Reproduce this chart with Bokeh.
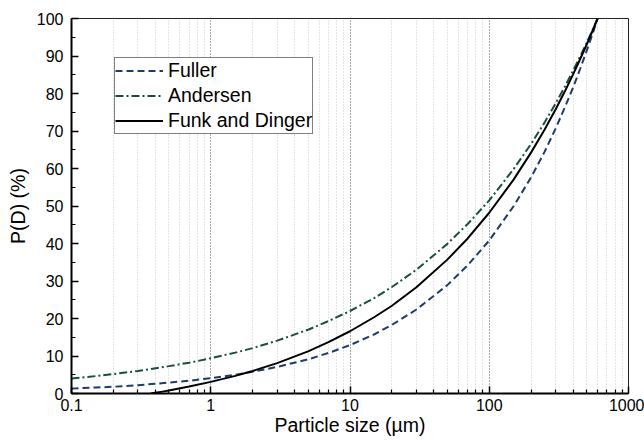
from bokeh.plotting import figure
from bokeh.models import (FixedTicker, SingleIntervalTicker, Legend, LegendItem,
                          CustomJSTickFormatter, Range1d)
from bokeh.embed import file_html
from bokeh.resources import INLINE

# ---- data ----
size_um = [0.1, 0.15, 0.2, 0.3, 0.5, 0.7, 1, 1.5, 2, 3, 5, 7, 10, 15, 20, 30,
           50, 70, 100, 150, 200, 250, 300, 350, 400, 450, 500, 550, 600]
fuller = [1.3, 1.6, 1.8, 2.2, 2.9, 3.4, 4.1, 5.0, 5.8, 7.1, 9.1, 10.8, 12.9,
          15.8, 18.3, 22.4, 28.9, 34.2, 40.8, 50.0, 57.7, 64.5, 70.7, 76.4,
          81.6, 86.6, 91.3, 95.7, 100.0]
andersen = [4.0, 4.65, 5.2, 6.0, 7.3, 8.2, 9.4, 10.9, 12.1, 14.1, 17.0, 19.3,
            22.0, 25.5, 28.4, 33.0, 39.9, 45.2, 51.5, 59.9, 66.6, 72.3, 77.4,
            81.9, 86.1, 89.9, 93.5, 96.8, 100.0]
funk_size_um = [0.37, 0.4, 0.45, 0.5, 0.7, 1, 1.5, 2, 3, 5, 7, 10, 15, 20, 30,
                50, 70, 100, 150, 200, 250, 300, 350, 400, 450, 500, 550, 600]
funk_dinger = [0.0, 0.2, 0.5, 0.8, 1.85, 3.1, 4.7, 6.0, 8.1, 11.25, 13.7, 16.6,
               20.4, 23.4, 28.35, 35.7, 41.35, 48.2, 57.1, 64.3, 70.4, 75.8,
               80.65, 85.1, 89.2, 93.0, 96.6, 100.0]

x_ticks = [0.1, 1, 10, 100, 1000]
x_tick_labels = ["0.1", "1", "10", "100", "1000"]
x_minor_ticks = [m * t for t in [0.1, 1, 10, 100] for m in range(2, 10)]

FONT = "Liberation Sans"

p = figure(width=644, height=440, x_axis_type="log",
           x_range=Range1d(0.1, 1000), y_range=Range1d(0, 100),
           output_backend="svg", toolbar_location=None,
           min_border_left=71, min_border_right=16, min_border_top=18,
           min_border_bottom=47)
p.background_fill_color = "white"
p.border_fill_color = "white"
p.outline_line_color = "#222222"
p.outline_line_width = 1

r_fuller = p.line(size_um, fuller, line_color="#1d3c6e", line_width=2,
                  line_dash="7 4")
r_andersen = p.line(size_um, andersen, line_color="#17503f", line_width=2,
                    line_dash="8 3 2 3")
r_funk = p.line(funk_size_um, funk_dinger, line_color="black", line_width=2)

# axes
p.xaxis.ticker = FixedTicker(ticks=x_ticks, minor_ticks=x_minor_ticks)
p.xaxis.formatter = CustomJSTickFormatter(
    args=dict(xt=x_ticks, xl=x_tick_labels),
    code="const i = xt.findIndex(t => Math.abs(t - tick) < 1e-6*Math.max(1, Math.abs(t)));"
         " return i >= 0 ? xl[i] : '';")
p.yaxis.ticker = SingleIntervalTicker(interval=10, num_minor_ticks=2)

p.xaxis.axis_label = "Particle size (µm)"
p.yaxis.axis_label = "P(D) (%)"
for ax in (p.xaxis, p.yaxis):
    ax.axis_line_color = "black"
    ax.axis_line_width = 2
    ax.major_tick_in = 7
    ax.major_tick_out = 0
    ax.minor_tick_in = 4
    ax.minor_tick_out = 0
    ax.major_tick_line_color = "black"
    ax.minor_tick_line_color = "black"
    ax.major_tick_line_width = 1.5
    ax.minor_tick_line_width = 1.2
    ax.major_label_text_font = FONT
    ax.major_label_text_font_size = "16px"
    ax.major_label_text_color = "black"
    ax.axis_label_text_font = FONT
    ax.axis_label_text_font_size = "19.5px"
    ax.axis_label_text_font_style = "normal"
    ax.axis_label_text_color = "black"
p.xaxis.major_label_standoff = 5
p.xaxis.axis_label_standoff = 0
p.yaxis.major_label_standoff = 8
p.yaxis.axis_label_standoff = 5

# grid
p.ygrid.grid_line_color = None
p.xgrid.grid_line_color = "#555555"
p.xgrid.grid_line_dash = "1 2"
p.xgrid.grid_line_width = 1
p.xgrid.minor_grid_line_color = "#c8c8c8"
p.xgrid.minor_grid_line_dash = "1 2"
p.xgrid.minor_grid_line_width = 1

legend = Legend(items=[LegendItem(label="Fuller", renderers=[r_fuller]),
                       LegendItem(label="Andersen", renderers=[r_andersen]),
                       LegendItem(label="Funk and Dinger", renderers=[r_funk])],
                location=(43, 259))
legend.margin = 0
legend.padding = 0
legend.spacing = 0
legend.glyph_width = 48
legend.glyph_height = 25
legend.label_height = 25
legend.label_standoff = 5
legend.label_text_font = FONT
legend.label_text_font_size = "19.5px"
legend.label_text_color = "black"
legend.border_line_color = "black"
legend.border_line_width = 1.2
legend.background_fill_color = "white"
legend.background_fill_alpha = 1
p.add_layout(legend)

open("out.html", "w").write(file_html(p, INLINE))
